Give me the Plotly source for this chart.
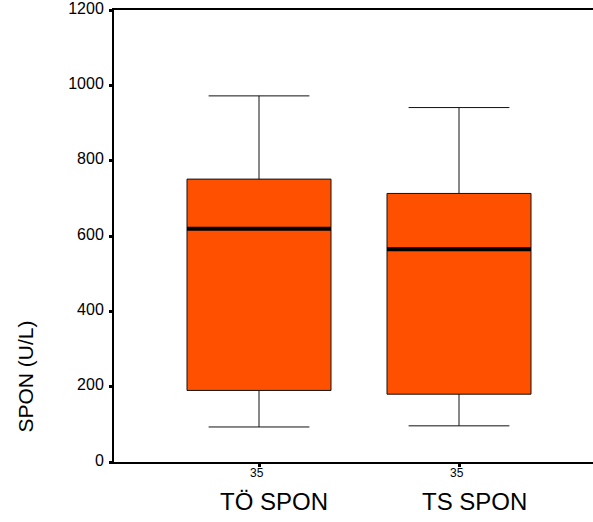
import plotly.graph_objects as go

categories = ["TÖ SPON", "TS SPON"]
n_values = [35, 35]
lower_whisker = [93, 96]
q1 = [190, 180]
median = [619, 565]
q3 = [751, 713]
upper_whisker = [972, 941]

y_ticks = [0, 200, 400, 600, 800, 1000, 1200]

box_width = 0.72
fill = "#FF5000"
FONT = "Liberation Sans, Arial"

fig = go.Figure()
fig.add_trace(go.Box(
    x=categories,
    q1=q1, median=median, q3=q3,
    lowerfence=lower_whisker, upperfence=upper_whisker,
    fillcolor=fill,
    line=dict(color="#111111", width=1),
    width=box_width,
    whiskerwidth=0.7,
    boxpoints=False,
    hoverinfo="skip",
    showlegend=False,
))

# thick median lines
for i, m in enumerate(median):
    fig.add_shape(type="line", xref="x", yref="y",
                  x0=i - box_width / 2, x1=i + box_width / 2, y0=m, y1=m,
                  line=dict(color="black", width=4))

# N labels and category names below the axis
for i, (c, n) in enumerate(zip(categories, n_values)):
    fig.add_annotation(x=i, xref="x", y=-0.025, yref="paper", yanchor="middle",
                       xshift=-2,
                       text=str(n), showarrow=False,
                       font=dict(family=FONT, size=12, color="black"))
    fig.add_annotation(x=i, xref="x", y=-0.052, yref="paper", yanchor="top",
                       xshift=15,
                       text=c, showarrow=False,
                       font=dict(family=FONT, size=24, color="black"))

fig.add_annotation(x=-0.185, xref="paper", y=0.19, yref="paper",
                   xanchor="center", yanchor="middle",
                   text="SPON (U/L)", showarrow=False, textangle=-90,
                   font=dict(family=FONT, size=21, color="black"))

fig.update_layout(
    width=593, height=522,
    margin=dict(l=114, r=0, t=10, b=60),
    paper_bgcolor="white", plot_bgcolor="white",
    font=dict(family=FONT, color="black"),
    xaxis=dict(
        type="category",
        range=[-0.725, 1.67],
        tickmode="array", tickvals=categories, ticktext=["", ""],
        ticks="outside", ticklen=3, tickwidth=3, tickcolor="black",
        showline=True, linecolor="black", linewidth=2, mirror=True,
        showgrid=False, zeroline=False, automargin=False,
    ),
    yaxis=dict(
        range=[0, 1200],
        tickmode="array", tickvals=y_ticks,
        tickfont=dict(family=FONT, size=16, color="black"),
        ticks="outside", ticklen=3, tickwidth=3, tickcolor="black",
        ticklabelshift=-2, ticklabelstandoff=2, ticklabeloverflow="allow",
        showline=True, linecolor="black", linewidth=2,
        showgrid=False, zeroline=False, automargin=False,
    ),
)

fig.write_html("out.html")
